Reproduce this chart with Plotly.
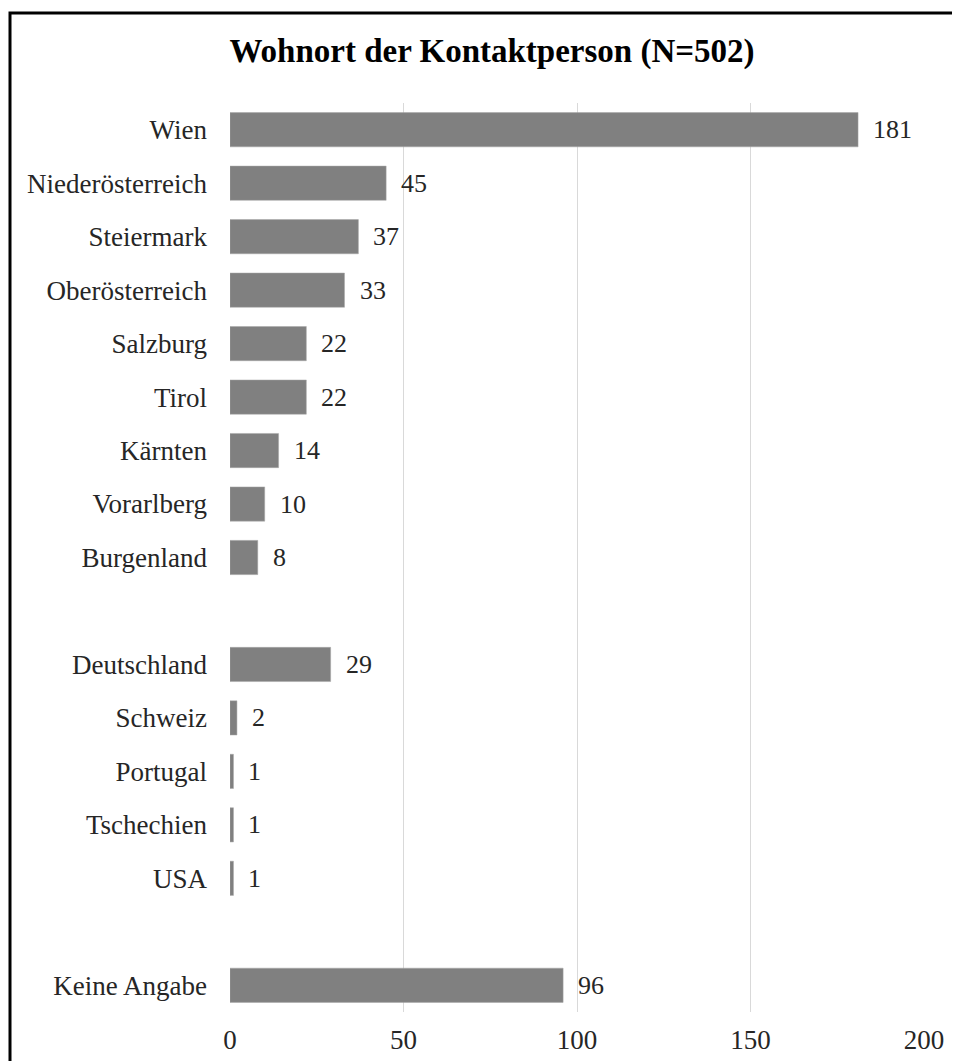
import plotly.graph_objects as go

categories = ["Wien", "Niederösterreich", "Steiermark", "Oberösterreich", "Salzburg",
              "Tirol", "Kärnten", "Vorarlberg", "Burgenland", " ",
              "Deutschland", "Schweiz", "Portugal", "Tschechien", "USA", "  ",
              "Keine Angabe"]
values = [181, 45, 37, 33, 22, 22, 14, 10, 8, None, 29, 2, 1, 1, 1, None, 96]
title = "Wohnort der Kontaktperson (N=502)"
xticks = [0, 50, 100, 150, 200]

OFF = 8  # page body margin
W, H = 960 - OFF, 1061 - OFF
L, R, T, B = 230 - OFF, 36, 103 - OFF, 49
pw, ph = W - L - R, H - T - B

FONT = "Liberation Serif, Times New Roman, serif"
TXT = "#262626"

fig = go.Figure(go.Bar(
    x=values, y=categories, orientation="h",
    marker=dict(color="#808080", line=dict(color="#a6a6a6", width=0.5)),
    width=0.64, cliponaxis=False,
))

for c, v in zip(categories, values):
    if v is None:
        continue
    fig.add_annotation(x=v, y=c, text=str(v), showarrow=False, xanchor="left",
                       xshift=13, font=dict(family=FONT, size=26, color=TXT))

px2x = lambda p: (p - OFF - L) / pw
px2y = lambda p: (H - B - (p - OFF)) / ph

fig.update_layout(
    width=W, height=H,
    margin=dict(l=L, r=R, t=T, b=B, autoexpand=False),
    paper_bgcolor="white", plot_bgcolor="white",
    showlegend=False,
    title=dict(text="<b>" + title + "</b>", x=(492 - OFF) / W, xanchor="center",
               y=1 - (50 - OFF) / H, yanchor="middle",
               font=dict(family=FONT, size=33, color="black")),
    xaxis=dict(range=[0, 200], tickvals=xticks, showgrid=True, gridcolor="#d9d9d9",
               gridwidth=1, zeroline=False, showline=False, ticks="",
               ticklabelstandoff=9, automargin=False,
               tickfont=dict(family=FONT, size=27, color=TXT)),
    yaxis=dict(categoryorder="array", categoryarray=categories, autorange="reversed",
               showgrid=False, zeroline=False, showline=False, ticks="",
               ticklabelstandoff=22, automargin=False,
               tickfont=dict(family=FONT, size=27, color=TXT)),
    shapes=[dict(type="rect", xref="paper", yref="paper",
                 x0=px2x(10), x1=px2x(1300), y0=px2y(1400), y1=px2y(13),
                 line=dict(color="black", width=3), fillcolor="rgba(0,0,0,0)",
                 layer="above")],
)

fig.write_html("out.html")
